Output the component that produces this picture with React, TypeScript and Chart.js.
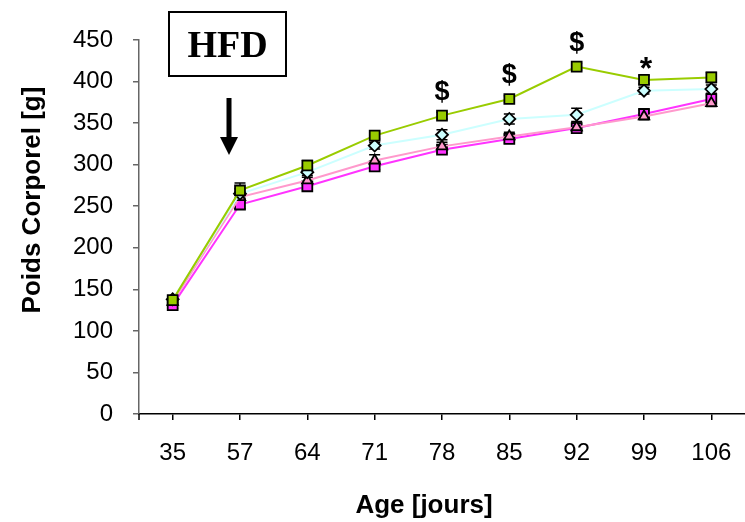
import { useEffect, useRef } from 'react';
import { Chart, registerables } from 'chart.js';

Chart.register(...registerables);

// Age in days
const ages = ['35', '57', '64', '71', '78', '85', '92', '99', '106'];

// Body weight (g) per group, with SEM
const greenSeries = [137, 269, 299, 335, 359, 379, 418, 402, 405];
const greenErr = [5, 9, 6, 4, 4, 4, 4, 5, 6];

const cyanSeries = [138, 265, 291, 323, 336, 355, 360, 389, 391];
const cyanErr = [4, 6, 6, 4, 6, 6, 8, 4, 5];

const pinkSeries = [135, 261, 281, 305, 322, 334, 345, 358, 374];
const pinkErr = [4, 6, 6, 7, 5, 5, 5, 4, 4];

const magentaSeries = [131, 252, 274, 298, 318, 331, 344, 361, 379];
const magentaErr = [4, 5, 4, 4, 4, 5, 4, 5, 5];

// Significance marks drawn above the green group
const signifMarks = ['', '', '', '', '$', '$', '$', '*', ''];

const yMin = 0;
const yMax = 450;
const yStep = 50;

const SANS = '"Liberation Sans", Arial, sans-serif';
const SERIF = '"Liberation Serif", "Times New Roman", serif';

const errorBarsPlugin = {
  id: 'errorBars',
  beforeDatasetsDraw(chart: any) {
    const ctx = chart.ctx;
    const yScale = chart.scales.y;
    ctx.save();
    ctx.strokeStyle = '#000';
    ctx.lineWidth = 1.5;
    chart.data.datasets.forEach((ds: any, di: number) => {
      const meta = chart.getDatasetMeta(di);
      const errs: number[] = ds.errors || [];
      meta.data.forEach((pt: any, i: number) => {
        const v = ds.data[i];
        const e = errs[i] || 0;
        const x = pt.x;
        const yt = yScale.getPixelForValue(v + e);
        const yb = yScale.getPixelForValue(v - e);
        ctx.beginPath();
        ctx.moveTo(x, yt);
        ctx.lineTo(x, yb);
        ctx.moveTo(x - 5.5, yt);
        ctx.lineTo(x + 5.5, yt);
        ctx.moveTo(x - 5.5, yb);
        ctx.lineTo(x + 5.5, yb);
        ctx.stroke();
      });
    });
    ctx.restore();
  },
};

const decorPlugin = {
  id: 'decor',
  afterDraw(chart: any) {
    const ctx = chart.ctx;
    const area = chart.chartArea;
    const xScale = chart.scales.x;
    const yScale = chart.scales.y;
    ctx.save();

    // left-edge tick below the x axis
    ctx.strokeStyle = '#000';
    ctx.lineWidth = 1.5;
    ctx.beginPath();
    ctx.moveTo(area.left, area.bottom);
    ctx.lineTo(area.left, area.bottom + 6);
    ctx.stroke();

    // significance marks
    ctx.fillStyle = '#000';
    ctx.textAlign = 'center';
    ctx.textBaseline = 'middle';
    signifMarks.forEach((m, i) => {
      if (!m) return;
      const x = xScale.getPixelForValue(i);
      const y = yScale.getPixelForValue(greenSeries[i]);
      if (m === '*') {
        ctx.font = `bold 32px ${SANS}`;
        ctx.fillText(m, x + 2, y - 10);
      } else {
        ctx.font = `bold 27px ${SANS}`;
        ctx.fillText(m, x, y - 23);
      }
    });

    // HFD box
    ctx.lineWidth = 2;
    ctx.strokeStyle = '#000';
    ctx.strokeRect(169, 12, 117, 64);
    ctx.font = `bold 38px ${SERIF}`;
    ctx.textBaseline = 'alphabetic';
    ctx.fillText('HFD', 227.5, 57);

    // arrow
    ctx.fillStyle = '#000';
    ctx.fillRect(226.5, 98, 5, 42);
    ctx.beginPath();
    ctx.moveTo(220, 137);
    ctx.lineTo(238, 137);
    ctx.lineTo(229, 155);
    ctx.closePath();
    ctx.fill();

    // axis titles
    ctx.font = `bold 26px ${SANS}`;
    ctx.textAlign = 'center';
    ctx.textBaseline = 'middle';
    ctx.fillText('Age [jours]', 424, 506);
    ctx.translate(33, 200);
    ctx.rotate(-Math.PI / 2);
    ctx.fillText('Poids Corporel [g]', 0, 0);
    ctx.restore();
  },
};

export default function App() {
  const ref = useRef<HTMLCanvasElement | null>(null);

  useEffect(() => {
    const canvas = ref.current;
    if (!canvas) return;
    const mk = (
      label: string,
      data: number[],
      errors: number[],
      color: string,
      style: string,
      radius: number,
      order: number
    ) => ({
      label,
      data,
      errors,
      borderColor: color,
      backgroundColor: color,
      borderWidth: 2,
      pointStyle: style,
      pointRadius: radius,
      pointBackgroundColor: color,
      pointBorderColor: '#000',
      pointBorderWidth: 1.8,
      tension: 0,
      fill: false,
      clip: false,
      order,
    });

    const chart = new Chart(canvas, {
      type: 'line',
      data: {
        labels: ages,
        datasets: [
          mk('green', greenSeries, greenErr, '#99CC00', 'rect', 7, 1),
          mk('cyan', cyanSeries, cyanErr, '#CCFFFF', 'rectRot', 6, 2),
          mk('pink', pinkSeries, pinkErr, '#FF99CC', 'triangle', 6, 3),
          mk('magenta', magentaSeries, magentaErr, '#FF33FF', 'rect', 7, 4),
        ] as any,
      },
      options: {
        animation: false,
        responsive: false,
        maintainAspectRatio: false,
        layout: { autoPadding: false, padding: { top: 40, right: 0, left: 0, bottom: 0 } },
        plugins: {
          legend: { display: false },
          tooltip: { enabled: false },
        },
        scales: {
          x: {
            type: 'category',
            offset: true,
            grid: {
              display: true,
              drawOnChartArea: false,
              offset: false,
              tickLength: 6,
              color: '#000',
              lineWidth: 1.5,
            },
            border: { display: true, color: '#000', width: 1.5 },
            ticks: {
              color: '#000',
              font: { family: SANS, size: 24 },
              padding: 19,
              maxRotation: 0,
            },
            afterFit(scale: any) {
              scale.height = 108;
              scale.paddingLeft = 0;
              scale.paddingRight = 0;
            },
          },
          y: {
            min: yMin,
            max: yMax,
            grid: {
              display: true,
              drawOnChartArea: false,
              tickLength: 6,
              color: '#666',
              lineWidth: 1.5,
            },
            border: { display: true, color: '#666', width: 1.5 },
            ticks: {
              stepSize: yStep,
              color: '#000',
              font: { family: SANS, size: 24 },
              padding: 20,
            },
            afterFit(scale: any) {
              scale.width = 139;
              scale.paddingTop = 0;
              scale.paddingBottom = 0;
            },
          },
        },
      },
      plugins: [errorBarsPlugin, decorPlugin],
    });
    return () => chart.destroy();
  }, []);

  return (
    <div style={{ position: 'absolute', left: 0, top: 0, width: 745, height: 522, background: '#fff' }}>
      <canvas ref={ref} width={745} height={522} style={{ display: 'block' }} />
    </div>
  );
}
